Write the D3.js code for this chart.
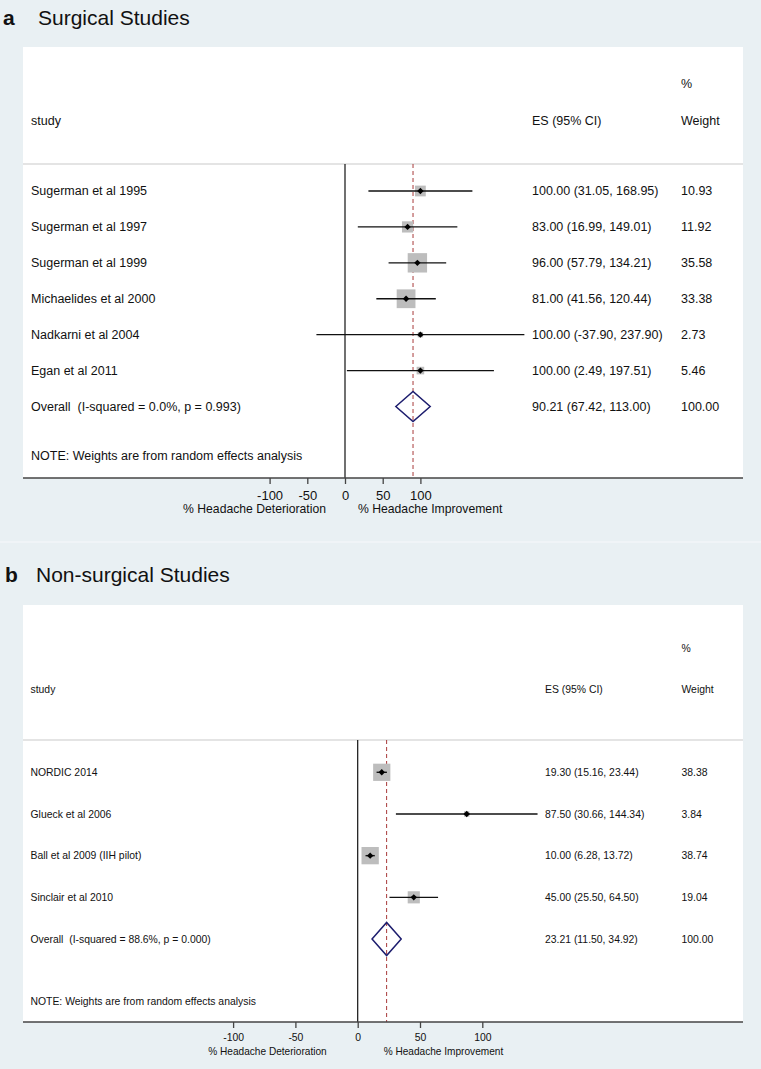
<!DOCTYPE html>
<html>
<head>
<meta charset="utf-8">
<script src="https://cdn.jsdelivr.net/npm/d3@7/dist/d3.min.js"></script>
<style>
  html, body { margin: 0; padding: 0; background: #e9f0f3; }
  svg { display: block; }
  text { font-family: "Liberation Sans", Arial, Helvetica, sans-serif; fill: #111; white-space: pre; }
</style>
</head>
<body>
<svg id="chart" width="761" height="1069"></svg>
<script>
// ---------------- DATA ----------------
const surgicalStudies = ["Sugerman et al 1995", "Sugerman et al 1997", "Sugerman et al 1999",
  "Michaelides et al 2000", "Nadkarni et al 2004", "Egan et al 2011"];
const surgicalES = [100.00, 83.00, 96.00, 81.00, 100.00, 100.00];
const surgicalLower = [31.05, 16.99, 57.79, 41.56, -37.90, 2.49];
const surgicalUpper = [168.95, 149.01, 134.21, 120.44, 237.90, 197.51];
const surgicalWeight = [10.93, 11.92, 35.58, 33.38, 2.73, 5.46];
const surgicalOverall = [90.21, 67.42, 113.00];
const surgicalOverallLabel = "Overall  (I-squared = 0.0%, p = 0.993)";

const nonSurgicalStudies = ["NORDIC 2014", "Glueck et al 2006", "Ball et al 2009 (IIH pilot)", "Sinclair et al 2010"];
const nonSurgicalES = [19.30, 87.50, 10.00, 45.00];
const nonSurgicalLower = [15.16, 30.66, 6.28, 25.50];
const nonSurgicalUpper = [23.44, 144.34, 13.72, 64.50];
const nonSurgicalWeight = [38.38, 3.84, 38.74, 19.04];
const nonSurgicalOverall = [23.21, 11.50, 34.92];
const nonSurgicalOverallLabel = "Overall  (I-squared = 88.6%, p = 0.000)";

const tickValues = [-100, -50, 0, 50, 100];
const noteText = "NOTE: Weights are from random effects analysis";
const leftAxisTitle = "% Headache Deterioration";
const rightAxisTitle = "% Headache Improvement";

// ---------------- LAYOUT ----------------
const svg = d3.select("#chart");

function drawPanel(cfg, studies, es, lo, hi, wt, overall, overallLabel) {
  const g = svg.append("g");
  const L = cfg;
  // title
  g.append("text").attr("x", L.letterX).attr("y", L.titleBase)
    .attr("font-size", 21).attr("font-weight", "bold").text(L.letter);
  g.append("text").attr("x", L.titleX).attr("y", L.titleBase)
    .attr("font-size", 21).text(L.title);

  // white panel
  g.append("rect").attr("x", L.left).attr("y", L.top)
    .attr("width", L.right - L.left).attr("height", L.bottom - L.top).attr("fill", "#fff");

  const fs = L.fs;
  // headers
  g.append("text").attr("x", L.labelX).attr("y", L.headY).attr("dy", "0.35em").attr("font-size", fs).text("study");
  g.append("text").attr("x", L.esX).attr("y", L.headY).attr("dy", "0.35em").attr("font-size", fs).text("ES (95% CI)");
  g.append("text").attr("x", L.wX).attr("y", L.headY).attr("dy", "0.35em").attr("font-size", fs).text("Weight");
  g.append("text").attr("x", L.wX).attr("y", L.pctY).attr("dy", "0.35em").attr("font-size", fs).text("%");

  // separator
  g.append("line").attr("x1", L.left).attr("x2", L.right).attr("y1", L.sepY).attr("y2", L.sepY)
    .attr("stroke", "#c9c9c9").attr("stroke-width", 1);

  const x = d3.scaleLinear().domain([0, 100]).range([L.x0, L.x100]);
  const n = studies.length;
  const y = d3.scaleLinear().domain([0, n]).range([L.row0, L.rowN]);

  // zero line
  g.append("line").attr("x1", x(0)).attr("x2", x(0)).attr("y1", L.sepY).attr("y2", L.bottom)
    .attr("stroke", "#111").attr("stroke-width", 1.2);
  // overall dashed line
  g.append("line").attr("x1", x(overall[0])).attr("x2", x(overall[0])).attr("y1", L.sepY).attr("y2", L.bottom)
    .attr("stroke", "#a83a3a").attr("stroke-width", 1).attr("stroke-dasharray", "4,3");

  const rows = studies.map((s, i) => ({ s, es: es[i], lo: lo[i], hi: hi[i], w: wt[i], i }));

  // boxes
  g.selectAll(".box").data(rows).join("rect")
    .attr("x", d => x(d.es) - L.boxK * Math.sqrt(d.w) / 2)
    .attr("y", d => y(d.i) - L.boxK * Math.sqrt(d.w) / 2)
    .attr("width", d => L.boxK * Math.sqrt(d.w))
    .attr("height", d => L.boxK * Math.sqrt(d.w))
    .attr("fill", "#bdbdbd");
  // CI lines
  g.selectAll(".ci").data(rows).join("line")
    .attr("x1", d => x(d.lo)).attr("x2", d => x(d.hi))
    .attr("y1", d => y(d.i)).attr("y2", d => y(d.i))
    .attr("stroke", "#111").attr("stroke-width", 1.4);
  // point markers
  g.selectAll(".pt").data(rows).join("path")
    .attr("d", d => {
      const cx = x(d.es), cy = y(d.i), r = 3.2;
      return `M${cx - r},${cy}L${cx},${cy - r}L${cx + r},${cy}L${cx},${cy + r}Z`;
    })
    .attr("fill", "#000");

  // overall diamond
  const oy = y(n);
  g.append("path")
    .attr("d", `M${x(overall[1])},${oy}L${x(overall[0])},${oy - L.diaH}L${x(overall[2])},${oy}L${x(overall[0])},${oy + L.diaH}Z`)
    .attr("fill", "none").attr("stroke", "#1d1d6e").attr("stroke-width", 1.5);

  // texts
  const all = rows.concat([{ s: overallLabel, es: overall[0], lo: overall[1], hi: overall[2], w: 100, i: n }]);
  g.selectAll(".lab").data(all).join("text")
    .attr("x", L.labelX).attr("y", d => y(d.i)).attr("dy", "0.35em").attr("font-size", fs)
    .attr("xml:space", "preserve").text(d => d.s);
  g.selectAll(".esl").data(all).join("text")
    .attr("x", L.esX).attr("y", d => y(d.i)).attr("dy", "0.35em").attr("font-size", fs)
    .text(d => `${d.es.toFixed(2)} (${d.lo.toFixed(2)}, ${d.hi.toFixed(2)})`);
  g.selectAll(".wl").data(all).join("text")
    .attr("x", L.wX).attr("y", d => y(d.i)).attr("dy", "0.35em").attr("font-size", fs)
    .text(d => d.w.toFixed(2));

  // note
  g.append("text").attr("x", L.labelX).attr("y", L.noteY).attr("dy", "0.35em").attr("font-size", fs).text(noteText);

  // axis
  const axis = d3.axisBottom(x).tickValues(tickValues).tickSize(6).tickSizeOuter(0).tickPadding(3)
    .tickFormat(d => String(d));
  const ag = g.append("g").attr("transform", `translate(0,${L.bottom})`).call(axis);
  ag.select(".domain").remove();
  ag.selectAll(".tick line").attr("stroke", "#444").attr("stroke-width", 1.3);
  ag.selectAll(".tick text").attr("font-size", L.tickFs).attr("fill", "#111")
    .attr("font-family", "\"Liberation Sans\", Arial, sans-serif").attr("y", L.tickLabY).attr("dy", "0.35em");
  g.append("line").attr("x1", L.left).attr("x2", L.right).attr("y1", L.bottom).attr("y2", L.bottom)
    .attr("stroke", "#444").attr("stroke-width", 1.6);

  g.append("text").attr("x", x(0) - L.detGap).attr("y", L.axTitleY).attr("dy", "0.35em")
    .attr("text-anchor", "end").attr("font-size", L.axTitleFs).text(leftAxisTitle);
  g.append("text").attr("x", x(0) + L.impGap).attr("y", L.axTitleY).attr("dy", "0.35em")
    .attr("text-anchor", "start").attr("font-size", L.axTitleFs).text(rightAxisTitle);
}

// faint boundary between the two figure halves
svg.append("line").attr("x1", 0).attr("x2", 761).attr("y1", 542).attr("y2", 542)
  .attr("stroke", "#f2f6f8").attr("stroke-width", 1.5);

drawPanel({
  letter: "a", title: "Surgical Studies", letterX: 3, titleX: 38, titleBase: 25,
  left: 23, right: 743, top: 47, bottom: 478,
  fs: 12.5, labelX: 31, esX: 532, wX: 681, headY: 121, pctY: 84, sepY: 164,
  x0: 345, x100: 420.4, row0: 191, rowN: 406.5,
  boxK: 3.25, diaH: 15, noteY: 456,
  tickFs: 13, tickLabY: 17, axTitleFs: 12.2, axTitleY: 509, detGap: 19, impGap: 13
}, surgicalStudies, surgicalES, surgicalLower, surgicalUpper, surgicalWeight, surgicalOverall, surgicalOverallLabel);

drawPanel({
  letter: "b", title: "Non-surgical Studies", letterX: 5, titleX: 36, titleBase: 582,
  left: 23, right: 743, top: 605, bottom: 1022,
  fs: 10.4, labelX: 30.5, esX: 545, wX: 681.5, headY: 689, pctY: 648, sepY: 740,
  x0: 357.7, x100: 482.3, row0: 772.3, rowN: 939,
  boxK: 2.78, diaH: 16.5, noteY: 1001.5,
  tickFs: 10.4, tickLabY: 15, axTitleFs: 10.1, axTitleY: 1051, detGap: 31, impGap: 26
}, nonSurgicalStudies, nonSurgicalES, nonSurgicalLower, nonSurgicalUpper, nonSurgicalWeight, nonSurgicalOverall, nonSurgicalOverallLabel);
</script>
</body>
</html>
